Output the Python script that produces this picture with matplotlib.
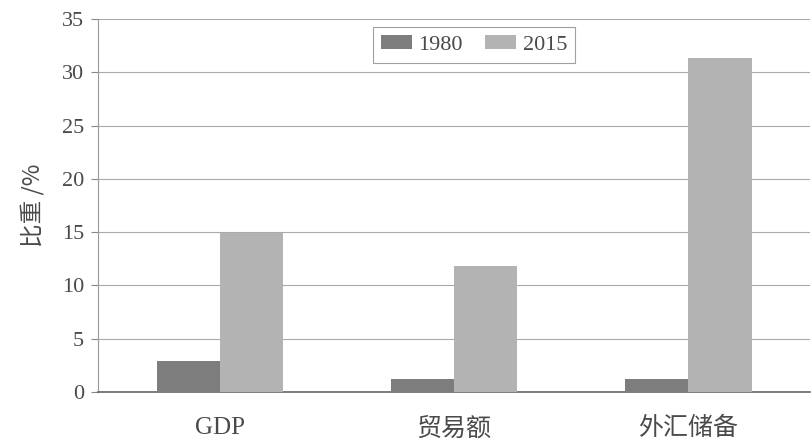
import matplotlib
matplotlib.use("Agg")
import matplotlib.pyplot as plt
import numpy as np

categories = ["GDP", "贸易额", "外汇储备"]
series_names = ["1980", "2015"]
values_1980 = [2.9, 1.2, 1.2]
values_2015 = [14.9, 11.8, 31.3]
yticks = [0, 5, 10, 15, 20, 25, 30, 35]

plt.rcParams['font.family'] = ['Liberation Serif', 'Noto Sans CJK SC', 'DejaVu Sans']
text_color = "#4a4a4a"

fig = plt.figure(figsize=(8.11, 4.40), dpi=100)
ax = fig.add_axes([0.121, 0.109, 0.878, 0.848])

x = np.arange(len(categories))
w = 0.27
ax.bar(x - w/2, values_1980, width=w, color="#7d7d7d", label=series_names[0], zorder=3)
ax.bar(x + w/2, values_2015, width=w, color="#b3b3b3", label=series_names[1], zorder=3)

ax.set_xlim(-0.52, 2.52)
ax.set_ylim(0, 35)
ax.set_yticks(yticks)
ax.set_yticklabels([str(t) for t in yticks], fontsize=16, color=text_color)
ax.set_xticks(x)
ax.set_xticklabels(categories, fontsize=18, color=text_color,
                   family=['Liberation Serif', 'Noto Sans CJK SC'])
ax.tick_params(axis='x', length=0, pad=18)
ax.tick_params(axis='y', direction='out', length=5, color="#888888", pad=5)
ax.grid(axis='y', color="#aaaaaa", linewidth=0.8, zorder=0)
for s in ['top', 'right']:
    ax.spines[s].set_visible(False)
ax.spines['left'].set_color("#999999")
ax.spines['bottom'].set_color("#666666")
ax.spines['bottom'].set_linewidth(1.2)

ax.set_ylabel("比重 /%", fontsize=17, color=text_color, labelpad=12,
              family=['Noto Sans CJK SC', 'DejaVu Sans'])

leg = ax.legend(loc='upper center', bbox_to_anchor=(0.528, 0.978), borderaxespad=0,
                ncol=2, fontsize=16,
                frameon=True, fancybox=False, edgecolor="#888888",
                handlelength=1.4, handleheight=0.6, handletextpad=0.3,
                columnspacing=1.0, borderpad=0.35)
for t in leg.get_texts():
    t.set_color(text_color)
leg.get_frame().set_linewidth(0.8)

fig.savefig("out.png", dpi=100)
